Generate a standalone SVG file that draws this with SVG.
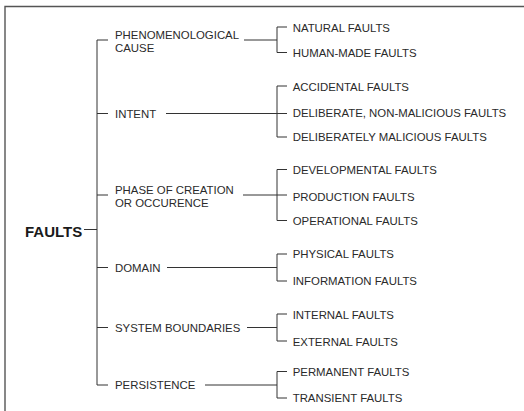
<svg xmlns="http://www.w3.org/2000/svg" width="524" height="411" viewBox="0 0 524 411">
<style>
.t{font-family:"Liberation Sans",Arial,Helvetica,sans-serif;font-size:11.4px;fill:#2a2a2a}
.root{font-family:"Liberation Sans",Arial,Helvetica,sans-serif;font-size:15px;font-weight:bold;fill:#1a1a1a}
.c{fill:none;stroke:#333;stroke-width:1}
.frame{fill:none;stroke:#555;stroke-width:1.4}
</style>
<rect width="524" height="411" fill="#fff"/>
<path class="frame" d="M5,411 V6.5 H524"/>
<g id="connectors">
<path class="c" d="M84,229.5 H97 M97,40 V385 M97,40 H108 M97,113.5 H108 M97,195 H108 M97,267.5 H108 M97,327.5 H108 M97,385 H108"/>
<path class="c" d="M244,40 H277 M287,27 H277 V52.5 H287"/>
<path class="c" d="M166,113.5 H287 M287,86 H277 V137 H287"/>
<path class="c" d="M243,195 H287 M287,169.5 H277 V220.5 H287"/>
<path class="c" d="M167,267.5 H277 M287,254 H277 V281 H287"/>
<path class="c" d="M247,327.5 H277 M287,314 H277 V341 H287"/>
<path class="c" d="M205,385 H277 M287,371.5 H277 V398 H287"/>
</g>
<g id="faults"><text class="root" x="25" y="236.7">FAULTS</text></g>
<g id="phenomenological"><text class="t" x="115" y="38.5">PHENOMENOLOGICAL</text><text class="t" x="115" y="51.8">CAUSE</text></g>
<g id="intent"><text class="t" x="115" y="117.8">INTENT</text></g>
<g id="phase"><text class="t" x="115" y="193.8">PHASE OF CREATION</text><text class="t" x="115" y="206.6">OR OCCURENCE</text></g>
<g id="domain"><text class="t" x="115" y="271.6">DOMAIN</text></g>
<g id="boundaries"><text class="t" x="115" y="331.7">SYSTEM BOUNDARIES</text></g>
<g id="persistence"><text class="t" x="115" y="389.4">PERSISTENCE</text></g>
<g id="natural"><text class="t" x="292.7" y="31.8">NATURAL FAULTS</text></g>
<g id="human"><text class="t" x="292.7" y="56.8">HUMAN-MADE FAULTS</text></g>
<g id="accidental"><text class="t" x="292.7" y="90.8">ACCIDENTAL FAULTS</text></g>
<g id="deliberate"><text class="t" x="292.7" y="117.4">DELIBERATE, NON-MALICIOUS FAULTS</text></g>
<g id="malicious"><text class="t" x="292.7" y="141.2">DELIBERATELY MALICIOUS FAULTS</text></g>
<g id="developmental"><text class="t" x="292.7" y="174">DEVELOPMENTAL FAULTS</text></g>
<g id="production"><text class="t" x="292.7" y="200.6">PRODUCTION FAULTS</text></g>
<g id="operational"><text class="t" x="292.7" y="224.8">OPERATIONAL FAULTS</text></g>
<g id="physical"><text class="t" x="292.7" y="258.2">PHYSICAL FAULTS</text></g>
<g id="information"><text class="t" x="292.7" y="285">INFORMATION FAULTS</text></g>
<g id="internal"><text class="t" x="292.7" y="318.8">INTERNAL FAULTS</text></g>
<g id="external"><text class="t" x="292.7" y="345.6">EXTERNAL FAULTS</text></g>
<g id="permanent"><text class="t" x="292.7" y="376.4">PERMANENT FAULTS</text></g>
<g id="transient"><text class="t" x="292.7" y="402.2">TRANSIENT FAULTS</text></g>
</svg>
